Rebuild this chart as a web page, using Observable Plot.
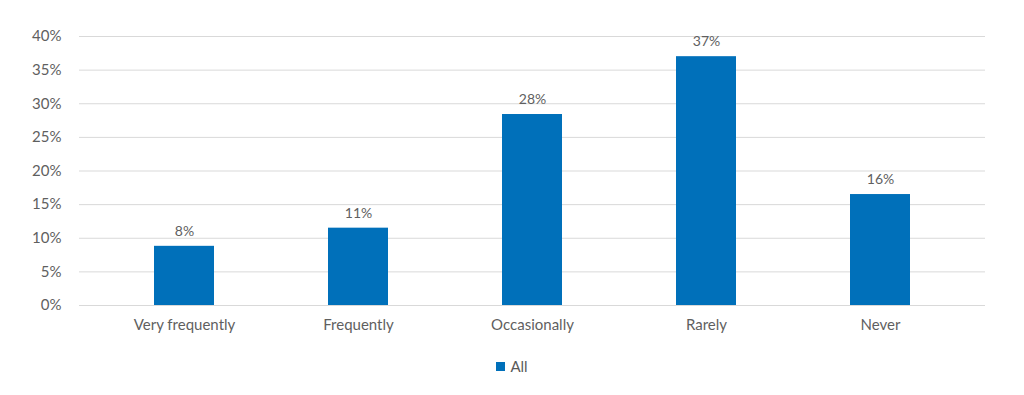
<!DOCTYPE html>
<html>
<head>
<meta charset="utf-8">
<script src="https://cdn.jsdelivr.net/npm/d3@7"></script>
<script src="https://cdn.jsdelivr.net/npm/@observablehq/plot@0.6"></script>
<style>
  html, body { margin: 0; padding: 0; background: #fff; }
  #chart { width: 1024px; }
  .legend { width: 1024px; display: flex; justify-content: center; align-items: center; padding-top: 12px; font-family: Lato, "Open Sans", sans-serif; font-size: 15px; color: #595959; }
  .legend .sw { width: 9px; height: 9px; background: #0070BA; margin-right: 5px; }
</style>
</head>
<body>
<div id="chart"></div>
<script>
const categories = ["Very frequently", "Frequently", "Occasionally", "Rarely", "Never"];
const values = [8.8, 11.5, 28.4, 37.0, 16.5];
const valueLabels = ["8%", "11%", "28%", "37%", "16%"];
const yTicks = [0, 5, 10, 15, 20, 25, 30, 35, 40];
const seriesName = "All";

const data = categories.map((c, i) => ({category: c, value: values[i], label: valueLabels[i]}));
const barColor = "#0070BA";
const textColor = "#5f5f5f";
const font = "Lato, 'Open Sans', sans-serif";

const chart = Plot.plot({
  width: 1024,
  height: 345,
  marginLeft: 79,
  marginRight: 39,
  marginTop: 36,
  marginBottom: 40,
  style: {fontFamily: font, fontSize: "15px", color: textColor, background: "#fff"},
  x: {domain: categories, paddingInner: 0.657, paddingOuter: 0.42, label: null, tickSize: 0, tickPadding: 14},
  y: {domain: [0, 40], ticks: yTicks, tickFormat: d => d + "%", label: null, tickSize: 0, tickPadding: 18},
  marks: [
    Plot.ruleY(yTicks, {stroke: "#d9d9d9", strokeWidth: 1}),
    Plot.barY(data, {x: "category", y: "value", fill: barColor}),
    Plot.text(data, {x: "category", y: "value", text: "label", dy: -15, fill: textColor, fontSize: 14}),
    Plot.axisY({ticks: yTicks, tickFormat: d => d + "%", tickSize: 0, tickPadding: 18, label: null, fontSize: 15}),
    Plot.axisX({tickSize: 0, tickPadding: 14, label: null, fontSize: 15})
  ]
});
document.getElementById("chart").appendChild(chart);

const legend = document.createElement("div");
legend.className = "legend";
legend.innerHTML = `<div class="sw"></div><span>${seriesName}</span>`;
document.body.appendChild(legend);
</script>
</body>
</html>
